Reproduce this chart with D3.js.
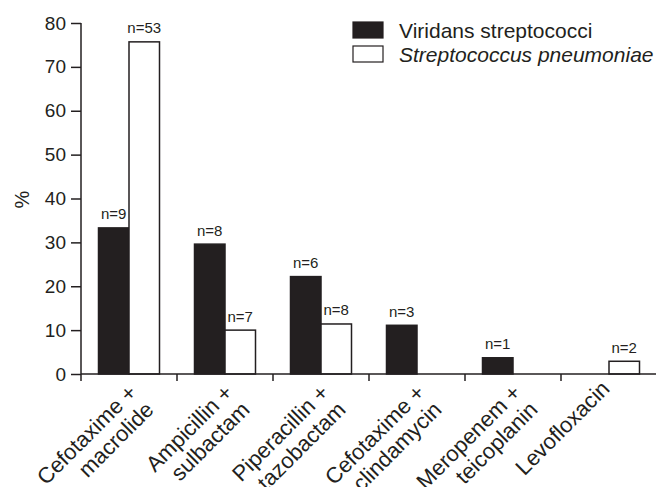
<!DOCTYPE html>
<html>
<head>
<meta charset="utf-8">
<script src="https://cdn.jsdelivr.net/npm/d3@7"></script>
<style>
  body { margin: 0; background: #fff; }
  svg { font-family: "Liberation Sans", Arial, sans-serif; }
</style>
</head>
<body>
<svg id="chart" width="656" height="487"></svg>
<script>
const categories = [
  ['Cefotaxime +', 'macrolide'],
  ['Ampicillin +', 'sulbactam'],
  ['Piperacillin +', 'tazobactam'],
  ['Cefotaxime +', 'clindamycin'],
  ['Meropenem +', 'teicoplanin'],
  ['Levofloxacin']
];
const seriesNames = ['Viridans streptococci', 'Streptococcus pneumoniae'];
const viridans = [33.3, 29.6, 22.2, 11.1, 3.7, 0];
const pneumoniae = [75.7, 10.0, 11.4, 0, 0, 2.9];
const viridansN = ['n=9', 'n=8', 'n=6', 'n=3', 'n=1', null];
const pneumoniaeN = ['n=53', 'n=7', 'n=8', null, null, 'n=2'];
const yTicks = [0, 10, 20, 30, 40, 50, 60, 70, 80];

const ink = '#231f20';
const margin = { top: 23, right: 0, bottom: 113, left: 81 };
const height = 487 - margin.top - margin.bottom;

const svg = d3.select('#chart');
const g = svg.append('g').attr('transform', `translate(${margin.left},${margin.top})`);

const x = d3.scaleBand().domain(d3.range(categories.length)).range([0, 576]);
const xs = d3.scaleBand().domain([0, 1]).range([17.5, 78.5]);
const y = d3.scaleLinear().domain([0, 80]).range([height, 0]);

// y axis
const yAxis = g.append('g').call(d3.axisLeft(y).tickValues(yTicks).tickSize(10).tickPadding(5));
yAxis.select('.domain').attr('stroke', ink).attr('stroke-width', 1.5).attr('d', `M0,${height}V0`);
yAxis.selectAll('.tick line').attr('stroke', ink).attr('stroke-width', 1.5);
yAxis.selectAll('.tick text').attr('fill', ink).attr('font-size', 19)
  .attr('font-family', 'Liberation Sans, Arial, sans-serif');

// bars
const groups = g.selectAll('.grp').data(categories).join('g')
  .attr('transform', (d, i) => `translate(${x(i)},0)`);

const series = [viridans, pneumoniae];
const labels = [viridansN, pneumoniaeN];
series.forEach((vals, s) => {
  groups.each(function(d, i) {
    const v = vals[i];
    const gg = d3.select(this);
    if (v > 0) {
      gg.append('rect')
        .attr('x', xs(s)).attr('width', xs.bandwidth())
        .attr('y', y(v)).attr('height', height - y(v))
        .attr('fill', s === 0 ? ink : '#fff')
        .attr('stroke', ink).attr('stroke-width', 1.5);
    }
    if (labels[s][i]) {
      gg.append('text')
        .attr('x', xs(s) + xs.bandwidth() / 2)
        .attr('y', y(v) - 8.5)
        .attr('text-anchor', 'middle')
        .attr('font-size', 15).attr('fill', ink)
        .text(labels[s][i]);
    }
  });
});

// x axis
const xAxisG = g.append('g').attr('transform', `translate(0,${height})`);
xAxisG.append('line').attr('x1', 0).attr('x2', 576).attr('stroke', ink).attr('stroke-width', 1.5);
xAxisG.selectAll('.xt').data(d3.range(categories.length + 1)).join('line')
  .attr('x1', d => d * x.bandwidth()).attr('x2', d => d * x.bandwidth())
  .attr('y1', 0).attr('y2', 7).attr('stroke', ink).attr('stroke-width', 1.5);

xAxisG.selectAll('.xl').data(categories).join('text')
  .attr('transform', (d, i) => {
    const cx = x(i) + x.bandwidth() / 2;
    return d.length > 1 ? `translate(${cx + 9},20) rotate(-45)` : `translate(${cx + 2},16) rotate(-45)`;
  })
  .attr('text-anchor', 'end')
  .attr('font-size', 22).attr('fill', ink)
  .each(function(d) {
    const t = d3.select(this);
    d.forEach((line, k) => {
      t.append('tspan').attr('x', 0).attr('dy', k === 0 ? 0 : 24).text(line);
    });
  });

// y label
svg.append('text')
  .attr('transform', 'translate(29,199.5) rotate(-90)')
  .attr('text-anchor', 'middle')
  .attr('font-size', 20).attr('fill', ink)
  .text('%');

// legend
const legend = svg.append('g').attr('transform', 'translate(353,22)');
seriesNames.forEach((name, i) => {
  legend.append('rect').attr('x', 0).attr('y', i * 24).attr('width', 30).attr('height', 16)
    .attr('fill', i === 0 ? ink : '#fff').attr('stroke', ink).attr('stroke-width', 1.2);
  legend.append('text').attr('x', 46).attr('y', i * 24 + 16)
    .attr('font-size', 21).attr('fill', ink)
    .attr('font-style', i === 1 ? 'italic' : 'normal')
    .text(name);
});
</script>
</body>
</html>
